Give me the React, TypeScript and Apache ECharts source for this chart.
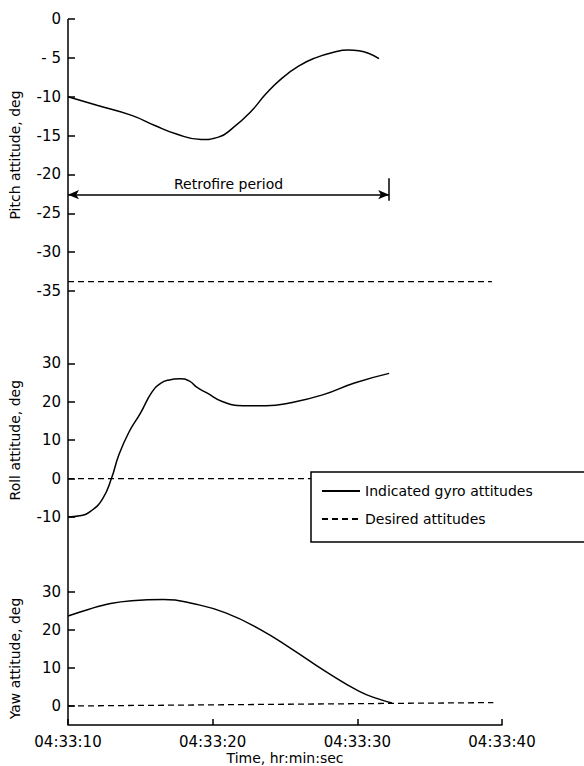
import React, { useEffect, useRef } from 'react';
import * as echarts from 'echarts';

const FONT = 'DejaVu Sans';

// time axis: seconds after 04:33:10
const timeTicks = [0, 10, 20, 30];
const timeLabels = ['04:33:10', '04:33:20', '04:33:30', '04:33:40'];

// Pitch
const pitchTime = [0, 2, 4.4, 6, 7.5, 9.2, 10.4, 11.4, 12.6, 13.7, 14.8, 16.0, 17.1, 18.3, 19.4, 20.1, 21.5];
const pitchDeg = [-10, -11.1, -12.4, -13.7, -14.8, -15.5, -15.2, -14.0, -12.0, -9.6, -7.6, -6.0, -5.0, -4.3, -4.0, -4.1, -5.1];
const pitchDesiredTime = [0, 29.3];
const pitchDesiredDeg = [-33.8, -33.8];
const pitchTicks = [0, -5, -10, -15, -20, -25, -30, -35];
const pitchTickLabels = ['0', '- 5', '-10', '-15', '-20', '-25', '-30', '-35'];

// Roll
const rollTime = [0, 0.8, 1.6, 2.4, 3.0, 3.5, 4.2, 5.0, 5.8, 6.4, 7.0, 7.7, 8.4, 8.9, 9.6, 10.7, 12.1, 13.7, 15.3, 17.6, 19.8, 22.2];
const rollDeg = [-10, -9.7, -8.4, -5.2, 0, 6.0, 12.0, 17.0, 22.5, 24.8, 25.7, 26.0, 25.4, 23.8, 22.3, 20.0, 19.0, 19.0, 19.7, 21.8, 24.9, 27.4];
const rollDesiredTime = [0, 16.8];
const rollDesiredDeg = [0, 0];
const rollTicks = [-10, 0, 10, 20, 30];

// Yaw
const yawTime = [0, 1.4, 2.5, 4.4, 6.6, 8.7, 10.9, 13.3, 15.5, 17.8, 20.1, 21.5, 22.4];
const yawDeg = [23.7, 25.4, 26.6, 27.7, 28.0, 26.9, 24.5, 20.1, 14.9, 9.1, 3.9, 1.8, 0.8];
const yawDesiredTime = [0, 29.4];
const yawDesiredDeg = [0, 0.9];
const yawTicks = [0, 10, 20, 30];
const yawMin = -5;

// Retrofire period annotation
const retroLabel = 'Retrofire period';
const retroStart = 0;
const retroEnd = 22.2;
const retroLevel = -22.6;
const retroBarTop = -20.5;
const retroBarBottom = -23.4;

const SOLID = 'Indicated gyro attitudes';
const DASHED = 'Desired attitudes';

const zip = (a: number[], b: number[]) => a.map((v, i) => [v, b[i]]);

export default function App() {
  const ref = useRef<HTMLDivElement>(null);
  useEffect(() => {
    const chart = echarts.init(ref.current!, null, { renderer: 'svg' });
    const tickStyle = { show: true, inside: true, length: 7, lineStyle: { color: '#000', width: 1.5 } };
    const labelStyle = { color: '#000', fontFamily: FONT, fontSize: 15, margin: 7 };
    const nameStyle = { color: '#000', fontFamily: FONT, fontSize: 14 };
    const yBase = {
      type: 'value',
      axisLine: { show: false },
      splitLine: { show: false },
      nameLocation: 'middle',
      nameGap: 46,
      nameTextStyle: nameStyle,
    };
    const hiddenX = { type: 'value', min: 0, max: 30, show: false };
    const solidLine = { color: '#000', width: 1.5, type: 'solid' };
    const dashedLine = { color: '#000', width: 1.3, type: [6, 4] };
    const lineBase = { type: 'line', symbol: 'none', showSymbol: false, color: '#000', clip: false };

    const option: any = {
      animation: false,
      backgroundColor: '#fff',
      grid: [
        { left: 63, right: 82, top: 19, height: 272 },
        { left: 63, right: 82, top: 363.4, height: 153.6 },
        { left: 63, right: 82, top: 592, height: 135.5 },
      ],
      xAxis: [
        { ...hiddenX, gridIndex: 0 },
        { ...hiddenX, gridIndex: 1 },
        {
          type: 'value',
          gridIndex: 2,
          min: 0,
          max: 30,
          interval: 10,
          position: 'bottom',
          axisLine: { show: true, onZero: false, lineStyle: { color: '#000', width: 1.5 } },
          axisTick: { show: true, inside: true, length: 6, lineStyle: { color: '#000', width: 1.5 } },
          splitLine: { show: false },
          axisLabel: {
            ...labelStyle,
            margin: 9,
            formatter: (v: number) => timeLabels[timeTicks.indexOf(v)] ?? '',
          },
          name: 'Time, hr:min:sec',
          nameLocation: 'middle',
          nameGap: 26,
          nameTextStyle: nameStyle,
        },
      ],
      yAxis: [
        {
          ...yBase,
          gridIndex: 0,
          min: -35,
          max: 0,
          interval: 5,
          name: 'Pitch attitude, deg',
          axisTick: tickStyle,
          axisLabel: {
            ...labelStyle,
            formatter: (v: number) => pitchTickLabels[pitchTicks.indexOf(v)] ?? String(v),
          },
        },
        {
          ...yBase,
          gridIndex: 1,
          min: -10,
          max: 30,
          interval: 10,
          name: 'Roll attitude, deg',
          axisTick: { ...tickStyle, customValues: rollTicks },
          axisLabel: { ...labelStyle, customValues: rollTicks },
        },
        {
          ...yBase,
          gridIndex: 2,
          min: yawMin,
          max: 30,
          name: 'Yaw attitude, deg',
          axisTick: { ...tickStyle, customValues: yawTicks },
          axisLabel: { ...labelStyle, customValues: yawTicks },
        },
      ],
      legend: {
        data: [SOLID, DASHED],
        orient: 'vertical',
        left: 311,
        top: 472,
        itemWidth: 38,
        itemHeight: 14,
        itemGap: 14,
        padding: [12, 80, 16, 10],
        borderColor: '#000',
        borderWidth: 1.5,
        selectedMode: false,
        itemStyle: { opacity: 0 },
        textStyle: { color: '#000', fontFamily: FONT, fontSize: 14 },
      },
      series: [
        {
          ...lineBase,
          name: SOLID,
          xAxisIndex: 0,
          yAxisIndex: 0,
          smooth: 0.5,
          lineStyle: solidLine,
          data: zip(pitchTime, pitchDeg),
          markLine: {
            silent: true,
            symbol: ['arrow', 'arrow'],
            symbolSize: [7, 11],
            lineStyle: { color: '#000', width: 1.5, type: 'solid' },
            label: {
              show: true,
              position: 'insideMiddleTop',
              formatter: retroLabel,
              color: '#000',
              fontFamily: FONT,
              fontSize: 14,
              distance: 4,
            },
            data: [
              [{ coord: [retroStart, retroLevel] }, { coord: [retroEnd, retroLevel] }],
              [
                { coord: [retroEnd, retroBarTop], symbol: 'none', label: { show: false } },
                { coord: [retroEnd, retroBarBottom], symbol: 'none', label: { show: false } },
              ],
            ],
          },
        },
        {
          ...lineBase,
          name: DASHED,
          xAxisIndex: 0,
          yAxisIndex: 0,
          lineStyle: dashedLine,
          data: zip(pitchDesiredTime, pitchDesiredDeg),
        },
        {
          ...lineBase,
          name: SOLID,
          xAxisIndex: 1,
          yAxisIndex: 1,
          smooth: 0.5,
          lineStyle: solidLine,
          data: zip(rollTime, rollDeg),
        },
        {
          ...lineBase,
          name: DASHED,
          xAxisIndex: 1,
          yAxisIndex: 1,
          lineStyle: dashedLine,
          data: zip(rollDesiredTime, rollDesiredDeg),
        },
        {
          ...lineBase,
          name: SOLID,
          xAxisIndex: 2,
          yAxisIndex: 2,
          smooth: 0.5,
          lineStyle: solidLine,
          data: zip(yawTime, yawDeg),
        },
        {
          ...lineBase,
          name: DASHED,
          xAxisIndex: 2,
          yAxisIndex: 2,
          lineStyle: dashedLine,
          data: zip(yawDesiredTime, yawDesiredDeg),
        },
      ],
    };
    chart.setOption(option);
    // continuous left axis line spanning all three panels
    const topPt = chart.convertToPixel({ gridIndex: 0 } as any, [0, 0]) as number[];
    const botPt = chart.convertToPixel({ gridIndex: 2 } as any, [0, yawMin]) as number[];
    if (topPt && botPt) {
      chart.setOption({
        graphic: [
          {
            type: 'line',
            shape: { x1: topPt[0], y1: topPt[1], x2: botPt[0], y2: botPt[1] },
            style: { stroke: '#000', lineWidth: 1.5 },
            z: 10,
          },
        ],
      });
    }
    return () => chart.dispose();
  }, []);
  return (
    <div
      ref={ref}
      style={{ position: 'absolute', left: 0, top: 0, width: 584, height: 766, background: '#fff' }}
    />
  );
}
